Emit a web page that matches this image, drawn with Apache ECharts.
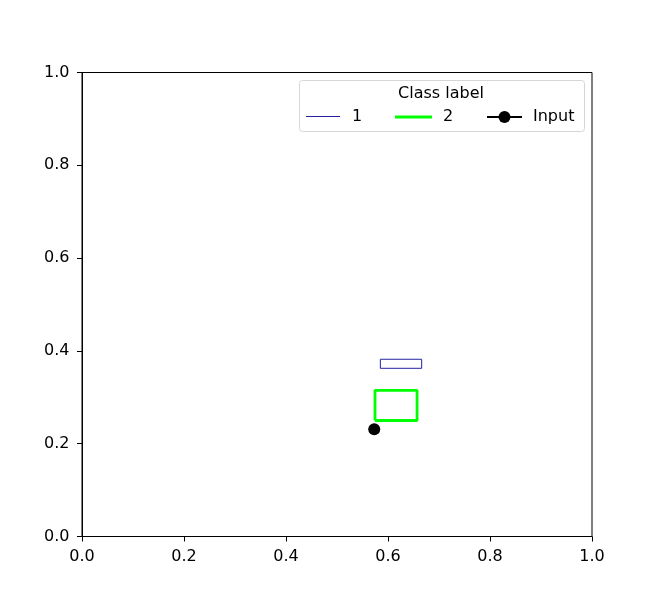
<!DOCTYPE html>
<html>
<head>
<meta charset="utf-8">
<script src="https://cdn.jsdelivr.net/npm/echarts@6/dist/echarts.min.js"></script>
<style>
html,body{margin:0;padding:0;background:#fff;}
#chart{width:657px;height:604px;}
</style>
</head>
<body>
<div id="chart"></div>
<script>
// Data
const xTicks = [0.0, 0.2, 0.4, 0.6, 0.8, 1.0];
const yTicks = [0.0, 0.2, 0.4, 0.6, 0.8, 1.0];
const legendTitle = 'Class label';
const classNames = ['1', '2'];
// hyperboxes: [xmin, ymin, xmax, ymax]
const box1 = [0.585, 0.3625, 0.666, 0.382];
const box2 = [0.5745, 0.25, 0.657, 0.315];
const inputName = 'Input';
const inputPoint = [0.573, 0.231];

function boxPath(b) {
  return [[b[0], b[1]], [b[2], b[1]], [b[2], b[3]], [b[0], b[3]], [b[0], b[1]]];
}

const font = 'DejaVu Sans';
const fs = 16;
const blue = '#2222a0';
const chart = echarts.init(document.getElementById('chart'), null, {renderer: 'canvas'});
const gridL = 82, gridT = 72.5, gridW = 510, gridH = 464;

function axis(margin) {
  return {
    type: 'value', min: xTicks[0], max: xTicks[xTicks.length - 1], interval: 0.2,
    axisLine: {show: true, onZero: false, lineStyle: {color: '#000', width: 1}},
    axisTick: {show: true, inside: false, length: 5, lineStyle: {color: '#000', width: 1}},
    splitLine: {show: false},
    axisLabel: {color: '#000', fontFamily: font, fontSize: fs, margin: margin,
      formatter: v => v.toFixed(1)}
  };
}

const textStyle = {fill: '#000', font: fs + 'px "DejaVu Sans"', textVerticalAlign: 'middle'};
const legendY = 117;

chart.setOption({
  backgroundColor: '#fff',
  animation: false,
  grid: {left: gridL, top: gridT, width: gridW, height: gridH, show: true, borderColor: '#000', borderWidth: 1, backgroundColor: 'transparent'},
  xAxis: axis(12),
  yAxis: axis(12.5),
  graphic: [
    {type: 'rect', shape: {x: 299.5, y: 80.5, width: 285, height: 51, r: 3},
     style: {fill: 'rgba(255,255,255,0.8)', stroke: '#d6d6d6', lineWidth: 1}, z: 10},
    {type: 'text', x: 441, y: 94, z: 11,
     style: Object.assign({}, textStyle, {text: legendTitle, textAlign: 'center'})},
    {type: 'line', z: 11, shape: {x1: 306, y1: 116.5, x2: 340, y2: 116.5},
     style: {stroke: blue, lineWidth: 1}},
    {type: 'text', x: 352, y: legendY, z: 11, style: Object.assign({}, textStyle, {text: classNames[0]})},
    {type: 'line', z: 11, shape: {x1: 395, y1: legendY, x2: 432, y2: legendY},
     style: {stroke: '#00ff00', lineWidth: 2.8}},
    {type: 'text', x: 443, y: legendY, z: 11, style: Object.assign({}, textStyle, {text: classNames[1]})},
    {type: 'line', z: 11, shape: {x1: 487, y1: legendY, x2: 522, y2: legendY},
     style: {stroke: '#000', lineWidth: 2}},
    {type: 'circle', z: 11, shape: {cx: 504.5, cy: legendY, r: 6}, style: {fill: '#000'}},
    {type: 'text', x: 533, y: legendY, z: 11, style: Object.assign({}, textStyle, {text: inputName})}
  ],
  series: [
    {name: classNames[0], type: 'line', data: boxPath(box1), symbol: 'none',
     lineStyle: {color: blue, width: 1}, itemStyle: {color: blue}},
    {name: classNames[1], type: 'line', data: boxPath(box2), symbol: 'none',
     lineStyle: {color: '#00ff00', width: 2.8}, itemStyle: {color: '#00ff00'}},
    {name: inputName, type: 'line', data: [inputPoint], symbol: 'circle', symbolSize: 12, showSymbol: true,
     lineStyle: {color: '#000', width: 2}, itemStyle: {color: '#000'}}
  ]
});
</script>
</body>
</html>
